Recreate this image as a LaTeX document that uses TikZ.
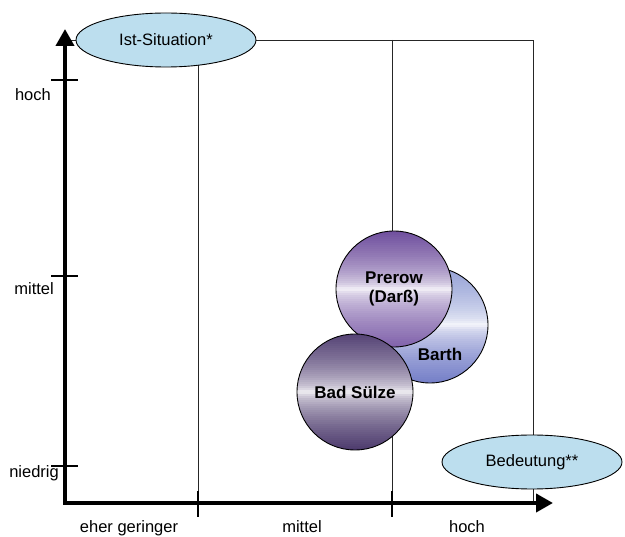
\documentclass[tikz,border=0pt]{standalone}
\usepackage{fontspec}
\setmainfont{Liberation Sans}
\usetikzlibrary{shapes.geometric, arrows.meta}
\definecolor{ellblue}{RGB}{188,222,238}
\definecolor{prerowtop}{RGB}{112,80,158}
\definecolor{prerowbot}{RGB}{130,100,172}
\definecolor{barthtop}{RGB}{150,162,214}
\definecolor{barthbot}{RGB}{118,128,200}
\definecolor{suelzetop}{RGB}{86,68,118}
\definecolor{suelzebot}{RGB}{78,60,110}
\tikzset{achse/.style={line width=4pt,-{Triangle[width=18pt,length=17pt]}},
         axtick/.style={line width=2.5pt},
         gridline/.style={line width=0.9pt,black!85},
         situation/.style={ellipse,draw,line width=0.9pt,fill=ellblue,minimum width=180pt,minimum height=54pt,font=\fontsize{16.5}{19}\selectfont},
         ort/.style={circle,draw,line width=0.9pt,minimum size=116pt,inner sep=0pt,align=center,font=\fontsize{17}{19}\bfseries\selectfont},
         ortname/.style={inner sep=0pt,font=\fontsize{17}{19}\bfseries\selectfont},
         skala/.style={font=\fontsize{16.5}{19}\selectfont,inner sep=0pt},
        }
% Verlauf oben -> weiss -> unten, in Streifen
\newcommand\kugelverlauf[4]{%
  \begin{scope}
    \clip (#1,#2) circle (58);
    \foreach \i in {0,...,57}{
      \pgfmathtruncatemacro\anteil{100*sqrt(abs(2*\i/57-1))}
      \ifnum\i<29 \colorlet{streifen}{#3!\anteil!white}\else\colorlet{streifen}{#4!\anteil!white}\fi
      \fill[streifen] (#1-60,#2-58+2*\i) rectangle (#1+60,#2-55.7+2*\i);
    }
  \end{scope}}

\begin{document}
\begin{tikzpicture}[x=1pt,y=-1pt]
        \useasboundingbox (0,0) rectangle (625,537);
        \coordinate (o) at (65,503);
        \coordinate (ytop) at (65,29);
        \coordinate (xtip) at (553,503);
        \coordinate (tl) at (65,40);
        \coordinate (tr) at (533,40);
        \coordinate (tm) at (392,40);
        \coordinate (br) at (533,503);
        \coordinate (b1) at (198,517);
        \coordinate (b2) at (392,517);

        \draw[gridline](tl)--(tr)--(br);
        \draw[gridline](tm)--(b2);
        \draw[gridline](198,40)--(b1);

        \node[situation](ist)at(166,40){Ist-Situation*};
        \node[situation](bed)at(532,462){Bedeutung**};

        \draw[axtick](51,80)--(78,80);
        \draw[axtick](51,276)--(78,276);
        \draw[axtick](51,466)--(78,466);
        \draw[axtick](198,491)--(b1);
        \draw[axtick](392,491)--(b2);
        \draw[achse](o)--(ytop);
        \draw[achse](63,503)--(xtip);

        \node[skala, anchor=base east](yhoch)at(51,101){hoch};
        \node[skala, anchor=base east](ymittel)at(54,295){mittel};
        \node[skala, anchor=base east](yniedrig)at(59,478){niedrig};
        \node[skala, anchor=base](xgering)at(129,533){eher geringer};
        \node[skala, anchor=base](xmittel)at(302,533){mittel};
        \node[skala, anchor=base](xhoch)at(467,533){hoch};

        \kugelverlauf{430}{325}{barthtop}{barthbot}
        \node[ort](barth)at(430,325){};
        \node[ortname](barthtext)at(440,354){Barth};
        \kugelverlauf{394}{289}{prerowtop}{prerowbot}
        \node[ort](prerow)at(394,289){Prerow\\(Darß)};
        \kugelverlauf{355}{392}{suelzetop}{suelzebot}
        \node[ort](suelze)at(355,392){Bad Sülze};
    \end{tikzpicture}
\end{document}
